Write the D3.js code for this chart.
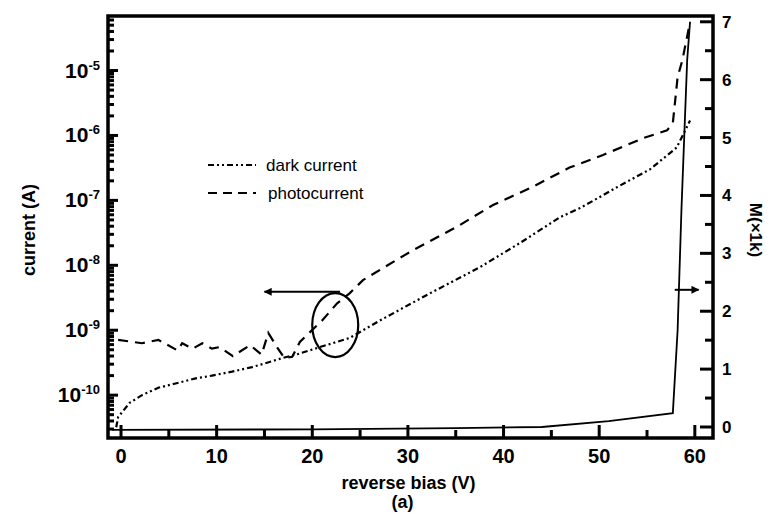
<!DOCTYPE html>
<html>
<head>
<meta charset="utf-8">
<script src="https://cdn.jsdelivr.net/npm/d3@7"></script>
<style>
  body { margin: 0; background: #fff; }
  svg { display: block; font-family: "Liberation Sans", Arial, sans-serif; }
</style>
</head>
<body>
<svg id="chart"></svg>
<script>
// reverse bias (V) / current (A)
const darkBias = [-0.5, -0.3, 0.9, 2.2, 3.9, 5.6, 7.7, 9.5, 11.6, 13.7, 15.1, 16.8, 18.5, 20.8, 23.9, 27.4, 32.3, 37.5, 41.7, 45.9, 48.0, 52.2, 55.3, 58.1, 59.5]
const darkCurrent = [3.2e-11, 4.6e-11, 7.6e-11, 1.0e-10, 1.3e-10, 1.5e-10, 1.8e-10, 2.0e-10, 2.3e-10, 2.7e-10, 3.1e-10, 3.7e-10, 4.3e-10, 5.5e-10, 7.6e-10, 1.5e-9, 3.7e-9, 9.3e-9, 2.2e-8, 5.5e-8, 7.6e-8, 1.7e-7, 3.0e-7, 6.5e-7, 1.7e-6]

const photoBias = [-0.3, 2.2, 3.9, 5.9, 6.4, 7.5, 8.5, 9.5, 10.3, 11.7, 13.5, 14.7, 15.4, 16.3, 17.1, 17.9, 18.7, 19.4, 21.1, 22.6, 23.9, 25.3, 27.4, 30.5, 35.1, 38.9, 42.8, 46.9, 50.4, 54.6, 57.1, 57.7, 58.2, 58.7, 59.5]
const photoCurrent = [7.1e-10, 6.3e-10, 7.1e-10, 4.9e-10, 6.3e-10, 5.2e-10, 6.3e-10, 5.2e-10, 5.5e-10, 4.0e-10, 5.9e-10, 4.2e-10, 9.1e-10, 5.5e-10, 3.7e-10, 3.9e-10, 6.6e-10, 8.3e-10, 1.45e-9, 2.6e-9, 3.7e-9, 5.9e-9, 9.1e-9, 1.7e-8, 3.9e-8, 8.5e-8, 1.55e-7, 3.2e-7, 5.0e-7, 9.1e-7, 1.2e-6, 1.55e-6, 7.9e-6, 1.45e-5, 5.6e-5]

// multiplication gain M (x1k)
const gainBias = [-0.9, 20, 35, 44, 51, 57.7, 58.2, 58.6, 59.2, 59.5]
const gain = [-0.05, -0.04, -0.02, 0.0, 0.1, 0.24, 1.67, 3.75, 6.34, 7.0]

const xTicks = [0, 10, 20, 30, 40, 50, 60]
const xMinorTicks = [5, 15, 25, 35, 45, 55]
const yExponents = [-10, -9, -8, -7, -6, -5]
const mTicks = [0, 1, 2, 3, 4, 5, 6, 7]
const mMinorTicks = [0.5, 1.5, 2.5, 3.5, 4.5, 5.5, 6.5]

const legendLabels = ["dark current", "photocurrent"]

const dimensions = {
  width: 770,
  height: 516,
  margin: { top: 16, right: 57, bottom: 78, left: 108 },
}

const drawChart = () => {
  const { width, height, margin } = dimensions
  const svg = d3.select("#chart").attr("width", width).attr("height", height)

  // scales
  const x = d3.scaleLinear().domain([-1.36, 61.9]).range([margin.left, width - margin.right])
  const y = d3.scaleLog().domain([Math.pow(10, -10.66), Math.pow(10, -4.16)]).range([height - margin.bottom, margin.top])
  const yM = d3.scaleLinear().domain([-0.19, 7.1]).range([height - margin.bottom, margin.top])

  const bottom = height - margin.bottom
  const right = width - margin.right

  // frame first, ticks on top of it
  svg.append("rect")
    .attr("x", margin.left)
    .attr("y", margin.top)
    .attr("width", right - margin.left)
    .attr("height", bottom - margin.top)
    .attr("fill", "none")
    .attr("stroke", "#000")
    .attr("stroke-width", 3.5)

  // ticks (all pointing inward)
  const minorLog = y.ticks().filter((t) => {
    const m = t / Math.pow(10, Math.floor(Math.log10(t) + 1e-9))
    return Math.abs(m - 1) > 1e-6
  })
  const majorLog = yExponents.map((e) => Math.pow(10, e))

  const tickMarks = []
  minorLog.forEach((v) => tickMarks.push({ x1: margin.left, x2: margin.left + 6, y1: y(v), y2: y(v) }))
  majorLog.forEach((v) => tickMarks.push({ x1: margin.left, x2: margin.left + 10, y1: y(v), y2: y(v) }))
  mMinorTicks.forEach((v) => tickMarks.push({ x1: right, x2: right - 8, y1: yM(v), y2: yM(v) }))
  mTicks.forEach((v) => tickMarks.push({ x1: right, x2: right - 13, y1: yM(v), y2: yM(v) }))
  xMinorTicks.forEach((v) => tickMarks.push({ x1: x(v), x2: x(v), y1: bottom, y2: bottom - 8 }))
  xTicks.forEach((v) => tickMarks.push({ x1: x(v), x2: x(v), y1: bottom, y2: bottom - 13 }))

  svg.append("g")
    .selectAll("line")
    .data(tickMarks)
    .join("line")
    .attr("x1", (d) => d.x1)
    .attr("x2", (d) => d.x2)
    .attr("y1", (d) => d.y1)
    .attr("y2", (d) => d.y2)
    .attr("stroke", "#000")
    .attr("stroke-width", 3)

  // tick labels
  const leftLabels = svg.append("g")
    .selectAll("text")
    .data(yExponents)
    .join("text")
    .attr("x", margin.left - 8)
    .attr("y", (d) => y(Math.pow(10, d)) + 7)
    .attr("text-anchor", "end")
    .attr("font-weight", "bold")
    .attr("font-size", 21)
  leftLabels.append("tspan").text("10")
  leftLabels.append("tspan").attr("dy", -8).attr("font-size", 13).text((d) => `-${Math.abs(d)}`)

  svg.append("g")
    .selectAll("text")
    .data(xTicks)
    .join("text")
    .attr("x", (d) => x(d))
    .attr("y", bottom + 25)
    .attr("text-anchor", "middle")
    .attr("font-weight", "bold")
    .attr("font-size", 20)
    .text((d) => d)

  svg.append("g")
    .selectAll("text")
    .data(mTicks)
    .join("text")
    .attr("x", right + 9)
    .attr("y", (d) => yM(d) + 6)
    .attr("font-weight", "bold")
    .attr("font-size", 17)
    .text((d) => d)

  // axis titles
  svg.append("text")
    .attr("x", (margin.left + right) / 2 - 2)
    .attr("y", 489)
    .attr("text-anchor", "middle")
    .attr("font-weight", "bold")
    .attr("font-size", 18)
    .text("reverse bias (V)")
  svg.append("text")
    .attr("x", (margin.left + right) / 2 - 8)
    .attr("y", 508)
    .attr("text-anchor", "middle")
    .attr("font-weight", "bold")
    .attr("font-size", 18)
    .text("(a)")
  svg.append("text")
    .attr("transform", "translate(35,230) rotate(-90)")
    .attr("text-anchor", "middle")
    .attr("font-weight", "bold")
    .attr("font-size", 18)
    .text("current (A)")
  svg.append("text")
    .attr("transform", "translate(750,230) rotate(90)")
    .attr("text-anchor", "middle")
    .attr("font-weight", "bold")
    .attr("font-size", 17)
    .text("M(×1k)")

  // curves
  const curve = (xs, ys, scale) =>
    d3.line().x((d, i) => x(xs[i])).y((d) => scale(d))(ys)

  const plot = svg.append("g").attr("fill", "none").attr("stroke", "#000")
  plot.append("path")
    .attr("d", curve(darkBias, darkCurrent, y))
    .attr("stroke-width", 2.2)
    .attr("stroke-dasharray", "6,3,2,3,2,3")
  plot.append("path")
    .attr("d", curve(photoBias, photoCurrent, y))
    .attr("stroke-width", 2.2)
    .attr("stroke-dasharray", "10,7")
  plot.append("path")
    .attr("d", curve(gainBias, gain, yM))
    .attr("stroke-width", 1.8)

  // legend
  const dashes = ["6,3,2,3,2,3", "9,6"]
  const legend = svg.append("g")
  legend.selectAll("line")
    .data(legendLabels)
    .join("line")
    .attr("x1", 208)
    .attr("x2", 256)
    .attr("y1", (d, i) => 165 + i * 28)
    .attr("y2", (d, i) => 165 + i * 28)
    .attr("stroke", "#000")
    .attr("stroke-width", 2.2)
    .attr("stroke-dasharray", (d, i) => dashes[i])
  legend.selectAll("text")
    .data(legendLabels)
    .join("text")
    .attr("x", (d, i) => 266 + i * 2)
    .attr("y", (d, i) => 171 + i * 28)
    .attr("font-size", 17)
    .text((d) => d)

  // annotation: ellipse + arrows pointing to the axes
  svg.append("defs").append("marker")
    .attr("id", "head")
    .attr("viewBox", "0 0 10 10")
    .attr("refX", 9)
    .attr("refY", 5)
    .attr("markerWidth", 5)
    .attr("markerHeight", 4)
    .attr("orient", "auto")
    .append("path")
    .attr("d", "M0,0L10,5L0,10z")
    .attr("fill", "#000")

  svg.append("ellipse")
    .attr("cx", x(22.4))
    .attr("cy", y(1.2e-9))
    .attr("rx", 23)
    .attr("ry", 32)
    .attr("fill", "none")
    .attr("stroke", "#000")
    .attr("stroke-width", 2.2)
  const arrows = [
    { from: [22.9, 3.9e-9], to: [15.0, 3.9e-9], scale: y },
    { from: [57.9, 2.37], to: [60.4, 2.37], scale: yM },
  ]
  svg.append("g")
    .selectAll("line")
    .data(arrows)
    .join("line")
    .attr("x1", (d) => x(d.from[0]))
    .attr("x2", (d) => x(d.to[0]))
    .attr("y1", (d) => d.scale(d.from[1]))
    .attr("y2", (d) => d.scale(d.to[1]))
    .attr("stroke", "#000")
    .attr("stroke-width", 2)
    .attr("marker-end", "url(#head)")
}

drawChart()
</script>
</body>
</html>
